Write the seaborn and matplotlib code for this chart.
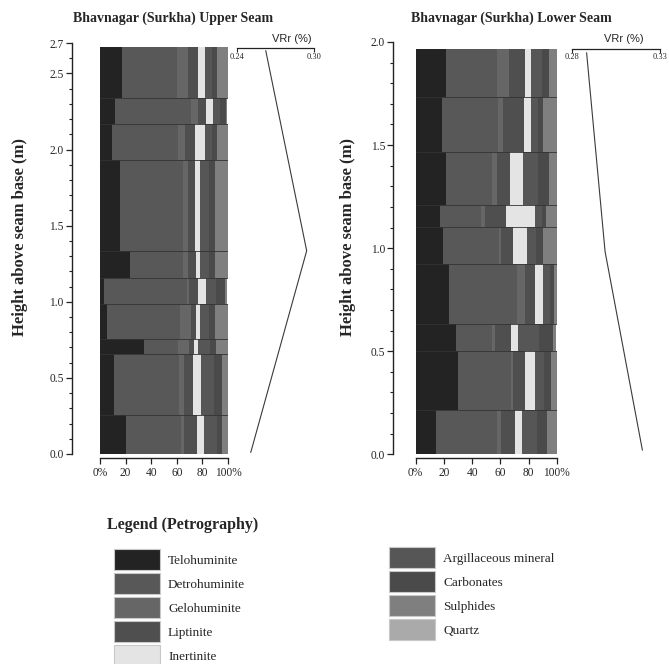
import numpy as np
import pandas as pd
import matplotlib
matplotlib.use('Agg')
import matplotlib.pyplot as plt
import seaborn as sns
from matplotlib.patches import Patch
from matplotlib.ticker import MultipleLocator

# Estilo general
sns.set_style('ticks')
plt.rcParams['font.family'] = ['Liberation Serif', 'DejaVu Serif']

# Componentes petrograficos y sus tonos de gris
componentes = ['Telohuminite', 'Detrohuminite', 'Gelohuminite', 'Liptinite', 'Inertinite',
               'Argillaceous mineral', 'Carbonates', 'Sulphides', 'Quartz']
colores = ['#232323', '#585858', '#666666', '#4f4f4f', '#e4e4e4',
           '#565656', '#4a4a4a', '#7f7f7f', '#aaaaaa']

# ---- Upper seam (capas de abajo hacia arriba) ----
upper_limites = [0, 0.259, 0.655, 0.757, 0.985, 1.157, 1.331, 1.932, 2.165, 2.337, 2.675]
upper_telo = [20.3, 11.2, 34.6, 5.5, 3.1, 23.7, 15.6, 9.1, 11.7, 17.2]
upper_detro = [43.0, 50.8, 26.0, 57.0, 64.6, 41.4, 49.5, 51.6, 59.4, 43.0]
upper_gelo = [2.6, 3.9, 9.1, 8.9, 1.6, 3.4, 4.0, 6.0, 5.7, 8.3]
upper_lipt = [9.9, 7.0, 3.9, 3.6, 7.3, 6.5, 5.4, 7.8, 6.3, 8.1]
upper_inert = [5.7, 6.0, 3.1, 3.4, 6.0, 3.1, 3.4, 7.6, 4.9, 5.2]
upper_argil = [9.6, 10.4, 9.0, 7.0, 8.0, 7.0, 7.0, 5.5, 6.0, 6.0]
upper_carb = [4.2, 6.0, 5.3, 4.7, 7.4, 4.5, 5.0, 3.6, 4.4, 3.4]
upper_sulf = [4.7, 4.7, 8.9, 9.9, 1.0, 10.4, 10.2, 8.9, 0.6, 8.9]
upper_quartz = [0, 0, 0, 0, 0, 0, 0, 0, 0, 0]
# VRr (%) frente a altura
upper_vrr = [0.2507, 0.2943, 0.2624]
upper_vrr_h = [0.01, 1.335, 2.65]

# ---- Lower seam ----
lower_limites = [0, 0.214, 0.5, 0.633, 0.924, 1.105, 1.207, 1.466, 1.733, 1.968]
lower_telo = [14.7, 30.0, 28.8, 23.9, 19.4, 17.3, 21.5, 18.7, 21.7]
lower_detro = [43.0, 37.8, 25.3, 48.0, 40.0, 29.1, 32.6, 39.7, 35.9]
lower_gelo = [3.1, 1.0, 2.4, 5.9, 1.4, 2.6, 3.5, 3.3, 8.3]
lower_lipt = [9.9, 8.9, 11.1, 7.1, 8.0, 15.1, 9.5, 14.9, 11.8]
lower_inert = [4.7, 6.6, 4.7, 5.2, 10.2, 20.8, 8.7, 5.4, 4.3]
lower_argil = [10.7, 7.0, 15.0, 4.8, 6.6, 4.8, 11.0, 5.0, 7.3]
lower_carb = [7.0, 4.8, 10.0, 3.0, 4.5, 3.0, 7.4, 3.0, 5.0]
lower_sulf = [6.9, 3.8, 2.1, 2.1, 9.9, 7.3, 5.7, 9.9, 5.7]
lower_quartz = [0, 0, 0, 0, 0, 0, 0, 0, 0]
lower_vrr = [0.32, 0.2988, 0.2883]
lower_vrr_h = [0.02, 0.983, 1.948]

df_upper = pd.DataFrame(dict(zip(componentes, [upper_telo, upper_detro, upper_gelo, upper_lipt, upper_inert,
                                               upper_argil, upper_carb, upper_sulf, upper_quartz])))
df_lower = pd.DataFrame(dict(zip(componentes, [lower_telo, lower_detro, lower_gelo, lower_lipt, lower_inert,
                                               lower_argil, lower_carb, lower_sulf, lower_quartz])))


def dibujar_columna(ax, limites, df, ymax, yticks, offset):
    base = np.array(limites[:-1])
    espesor = np.diff(limites)
    izq = np.zeros(len(base))
    for comp, col in zip(componentes, colores):
        vals = df[comp].values
        ax.barh(base, vals, height=espesor, left=izq, align='edge', color=col, linewidth=0)
        izq = izq + vals
    ax.hlines(limites[1:-1], 0, 100, color='#333333', lw=0.6)
    ax.set_xlim(0, 100)
    ax.set_ylim(0, ymax)
    for s in ['top', 'right']:
        ax.spines[s].set_visible(False)
    ax.spines['left'].set_position(('outward', offset))
    ax.spines['bottom'].set_position(('outward', 3))
    for s in ['left', 'bottom']:
        ax.spines[s].set_linewidth(1.0)
        ax.spines[s].set_color('#222222')
    ax.set_yticks(yticks)
    ax.set_yticklabels([f'{v:.1f}' for v in yticks])
    ax.yaxis.set_minor_locator(MultipleLocator(0.1))
    ax.set_xticks([0, 20, 40, 60, 80, 100])
    ax.set_xticklabels(['0%', '20', '40', '60', '80', '100%'])
    ax.tick_params(which='major', length=4, width=0.9, labelsize=8.3, color='#222222', pad=2)
    ax.tick_params(which='minor', length=2.2, width=0.8, color='#222222')
    ax.set_ylabel('Height above seam base (m)', fontsize=12, fontweight='bold')


def dibujar_vrr(ax, vrr, alturas, xlim, ymax, ytop):
    sns.lineplot(x=vrr, y=alturas, ax=ax, sort=False, orient='y', estimator=None,
                 color='#3a3a3a', lw=0.8)
    ax.set_xlim(*xlim)
    ax.set_ylim(0, ymax)
    for s in ['left', 'right', 'bottom']:
        ax.spines[s].set_visible(False)
    ax.spines['top'].set_position(('data', ytop))
    ax.spines['top'].set_linewidth(0.9)
    ax.spines['top'].set_color('#222222')
    ax.set_yticks([])
    ax.xaxis.set_ticks_position('top')
    ax.set_xticks(list(xlim))
    ax.set_xticklabels([f'{v:.2f}' for v in xlim])
    ax.tick_params(axis='x', direction='in', length=3, width=0.8, pad=-9, labelsize=6)
    ax.set_xlabel('')
    ax.set_ylabel('')
    ax.patch.set_alpha(0)


W, H = 669, 664
fig = plt.figure(figsize=(W / 100, H / 100), dpi=100)

# Posiciones en pixeles convertidas a fracciones de figura
def caja(x0, x1, y_top, y_bot):
    return [x0 / W, 1 - y_bot / H, (x1 - x0) / W, (y_bot - y_top) / H]

ax_up = fig.add_axes(caja(100, 228, 43, 454))
ax_upv = fig.add_axes(caja(237, 314, 43, 454))
ax_lo = fig.add_axes(caja(415.7, 556.7, 42, 454.3))
ax_lov = fig.add_axes(caja(572, 660, 42, 454.3))

dibujar_columna(ax_up, upper_limites, df_upper, 2.7, [0, 0.5, 1.0, 1.5, 2.0, 2.5, 2.7], 20)
dibujar_columna(ax_lo, lower_limites, df_lower, 2.0, [0, 0.5, 1.0, 1.5, 2.0], 16)
ax_up.yaxis.set_label_coords(-0.56, 0.528)
ax_lo.yaxis.set_label_coords(-0.42, 0.527)

dibujar_vrr(ax_upv, upper_vrr, upper_vrr_h, (0.24, 0.30), 2.7, 2.667)
dibujar_vrr(ax_lov, lower_vrr, lower_vrr_h, (0.28, 0.33), 2.0, 1.967)

# Titulos
fig.text(173 / W, 1 - 18 / H, 'Bhavnagar (Surkha) Upper Seam', ha='center', va='center',
         fontsize=10, fontweight='bold')
fig.text(511 / W, 1 - 18 / H, 'Bhavnagar (Surkha) Lower Seam', ha='center', va='center',
         fontsize=10, fontweight='bold')
fig.text(292 / W, 1 - 39 / H, 'VRr (%)', ha='center', va='center', fontsize=8, family='Liberation Sans')
fig.text(624 / W, 1 - 39 / H, 'VRr (%)', ha='center', va='center', fontsize=8, family='Liberation Sans')

# Leyenda
fig.text(107 / W, 1 - 525 / H, 'Legend (Petrography)', ha='left', va='center',
         fontsize=11.5, fontweight='bold')
parches = [Patch(facecolor=c, edgecolor='#c8c8c8', lw=0.8, label=n) for n, c in zip(componentes, colores)]
opts = dict(loc='upper left', frameon=False, fontsize=9.5, handlelength=3.5, handleheight=2.05,
            labelspacing=0.24, handletextpad=0.6, borderpad=0, borderaxespad=0)
fig.legend(handles=parches[:5], bbox_to_anchor=(114 / W, 1 - 549 / H), **opts)
fig.legend(handles=parches[5:], bbox_to_anchor=(389 / W, 1 - 547 / H), **opts)

fig.savefig('out.png', dpi=100)
